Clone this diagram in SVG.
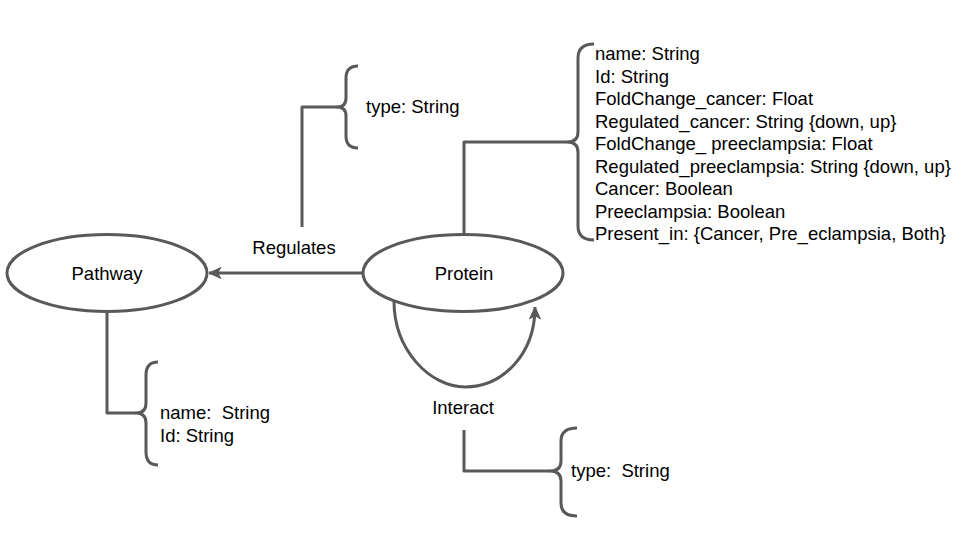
<svg xmlns="http://www.w3.org/2000/svg" width="960" height="540" viewBox="0 0 960 540">
<defs>
<style>
.ln{fill:none;stroke:#595959;stroke-width:3;stroke-linejoin:round}
.nd{fill:#ffffff;stroke:#595959;stroke-width:3}
.tx{font-family:"Liberation Sans",Arial,sans-serif;font-size:18.5px;fill:#000000;white-space:pre}
.mid{text-anchor:middle}
</style>
<marker id="arr" markerWidth="16" markerHeight="12" refX="14" refY="6" orient="auto" markerUnits="userSpaceOnUse">
<path d="M14,6 L2,0.5 L5.5,6 L2,11.5 Z" fill="#595959" stroke="#595959" stroke-width="1" stroke-linejoin="miter"/>
</marker>
</defs>
<rect width="960" height="540" fill="#ffffff"/>
<g id="connectors">
<path class="ln" d="M363,273 L209,273" marker-end="url(#arr)"/>
<path class="ln" d="M394,301 C394,350 430,387 465,387 C502,387 535,355 535,307" marker-end="url(#arr)"/>
<path class="ln" d="M302,227 L302,107 L337,107"/>
<path class="ln" d="M464,235 L464,142 L567,142"/>
<path class="ln" d="M107,312 L107,413 L136,413"/>
<path class="ln" d="M464,430 L464,471 L550,471"/>
</g>
<g id="pathway">
<ellipse class="nd" cx="107" cy="273" rx="100" ry="38.5"/>
<text class="tx mid" x="107" y="279.5">Pathway</text>
</g>
<g id="protein">
<ellipse class="nd" cx="463" cy="273" rx="100" ry="38.5"/>
<text class="tx mid" x="464" y="279.5">Protein</text>
</g>
<g id="regulates-label">
<text class="tx mid" x="294" y="254">Regulates</text>
</g>
<g id="interact-label">
<text class="tx mid" x="463" y="414">Interact</text>
</g>
<g id="regulates-attrs">
<path class="ln" d="M358,66 Q346,66 346,78 L346,98 Q346,107 337,107 Q346,107 346,116 L346,136 Q346,148 358,148"/>
<text class="tx" x="366" y="113">type: String</text>
</g>
<g id="protein-attrs">
<path class="ln" d="M594,44 Q578,44 578,58 L578,132 Q578,142 567,142 Q578,142 578,152 L578,226 Q578,240 594,240"/>
<text class="tx" x="595" y="60">name: String</text>
<text class="tx" x="595" y="82.5">Id: String</text>
<text class="tx" x="595" y="105">FoldChange_cancer: Float</text>
<text class="tx" x="595" y="127.5">Regulated_cancer: String {down, up}</text>
<text class="tx" x="595" y="150">FoldChange_ preeclampsia: Float</text>
<text class="tx" x="595" y="172.5">Regulated_preeclampsia: String {down, up}</text>
<text class="tx" x="595" y="195">Cancer: Boolean</text>
<text class="tx" x="595" y="217.5">Preeclampsia: Boolean</text>
<text class="tx" x="595" y="240">Present_in: {Cancer, Pre_eclampsia, Both}</text>
</g>
<g id="pathway-attrs">
<path class="ln" d="M158,362 Q146,362 146,375 L146,403 Q146,413 136,413 Q146,413 146,423 L146,452 Q146,465 158,465"/>
<text class="tx" x="160" y="419" xml:space="preserve">name:  String</text>
<text class="tx" x="160" y="442">Id: String</text>
</g>
<g id="interact-attrs">
<path class="ln" d="M577,428 Q561,428 561,441 L561,461 Q561,471 550,471 Q561,471 561,481 L561,503 Q561,516 577,516"/>
<text class="tx" x="571" y="477" xml:space="preserve">type:  String</text>
</g>
</svg>
